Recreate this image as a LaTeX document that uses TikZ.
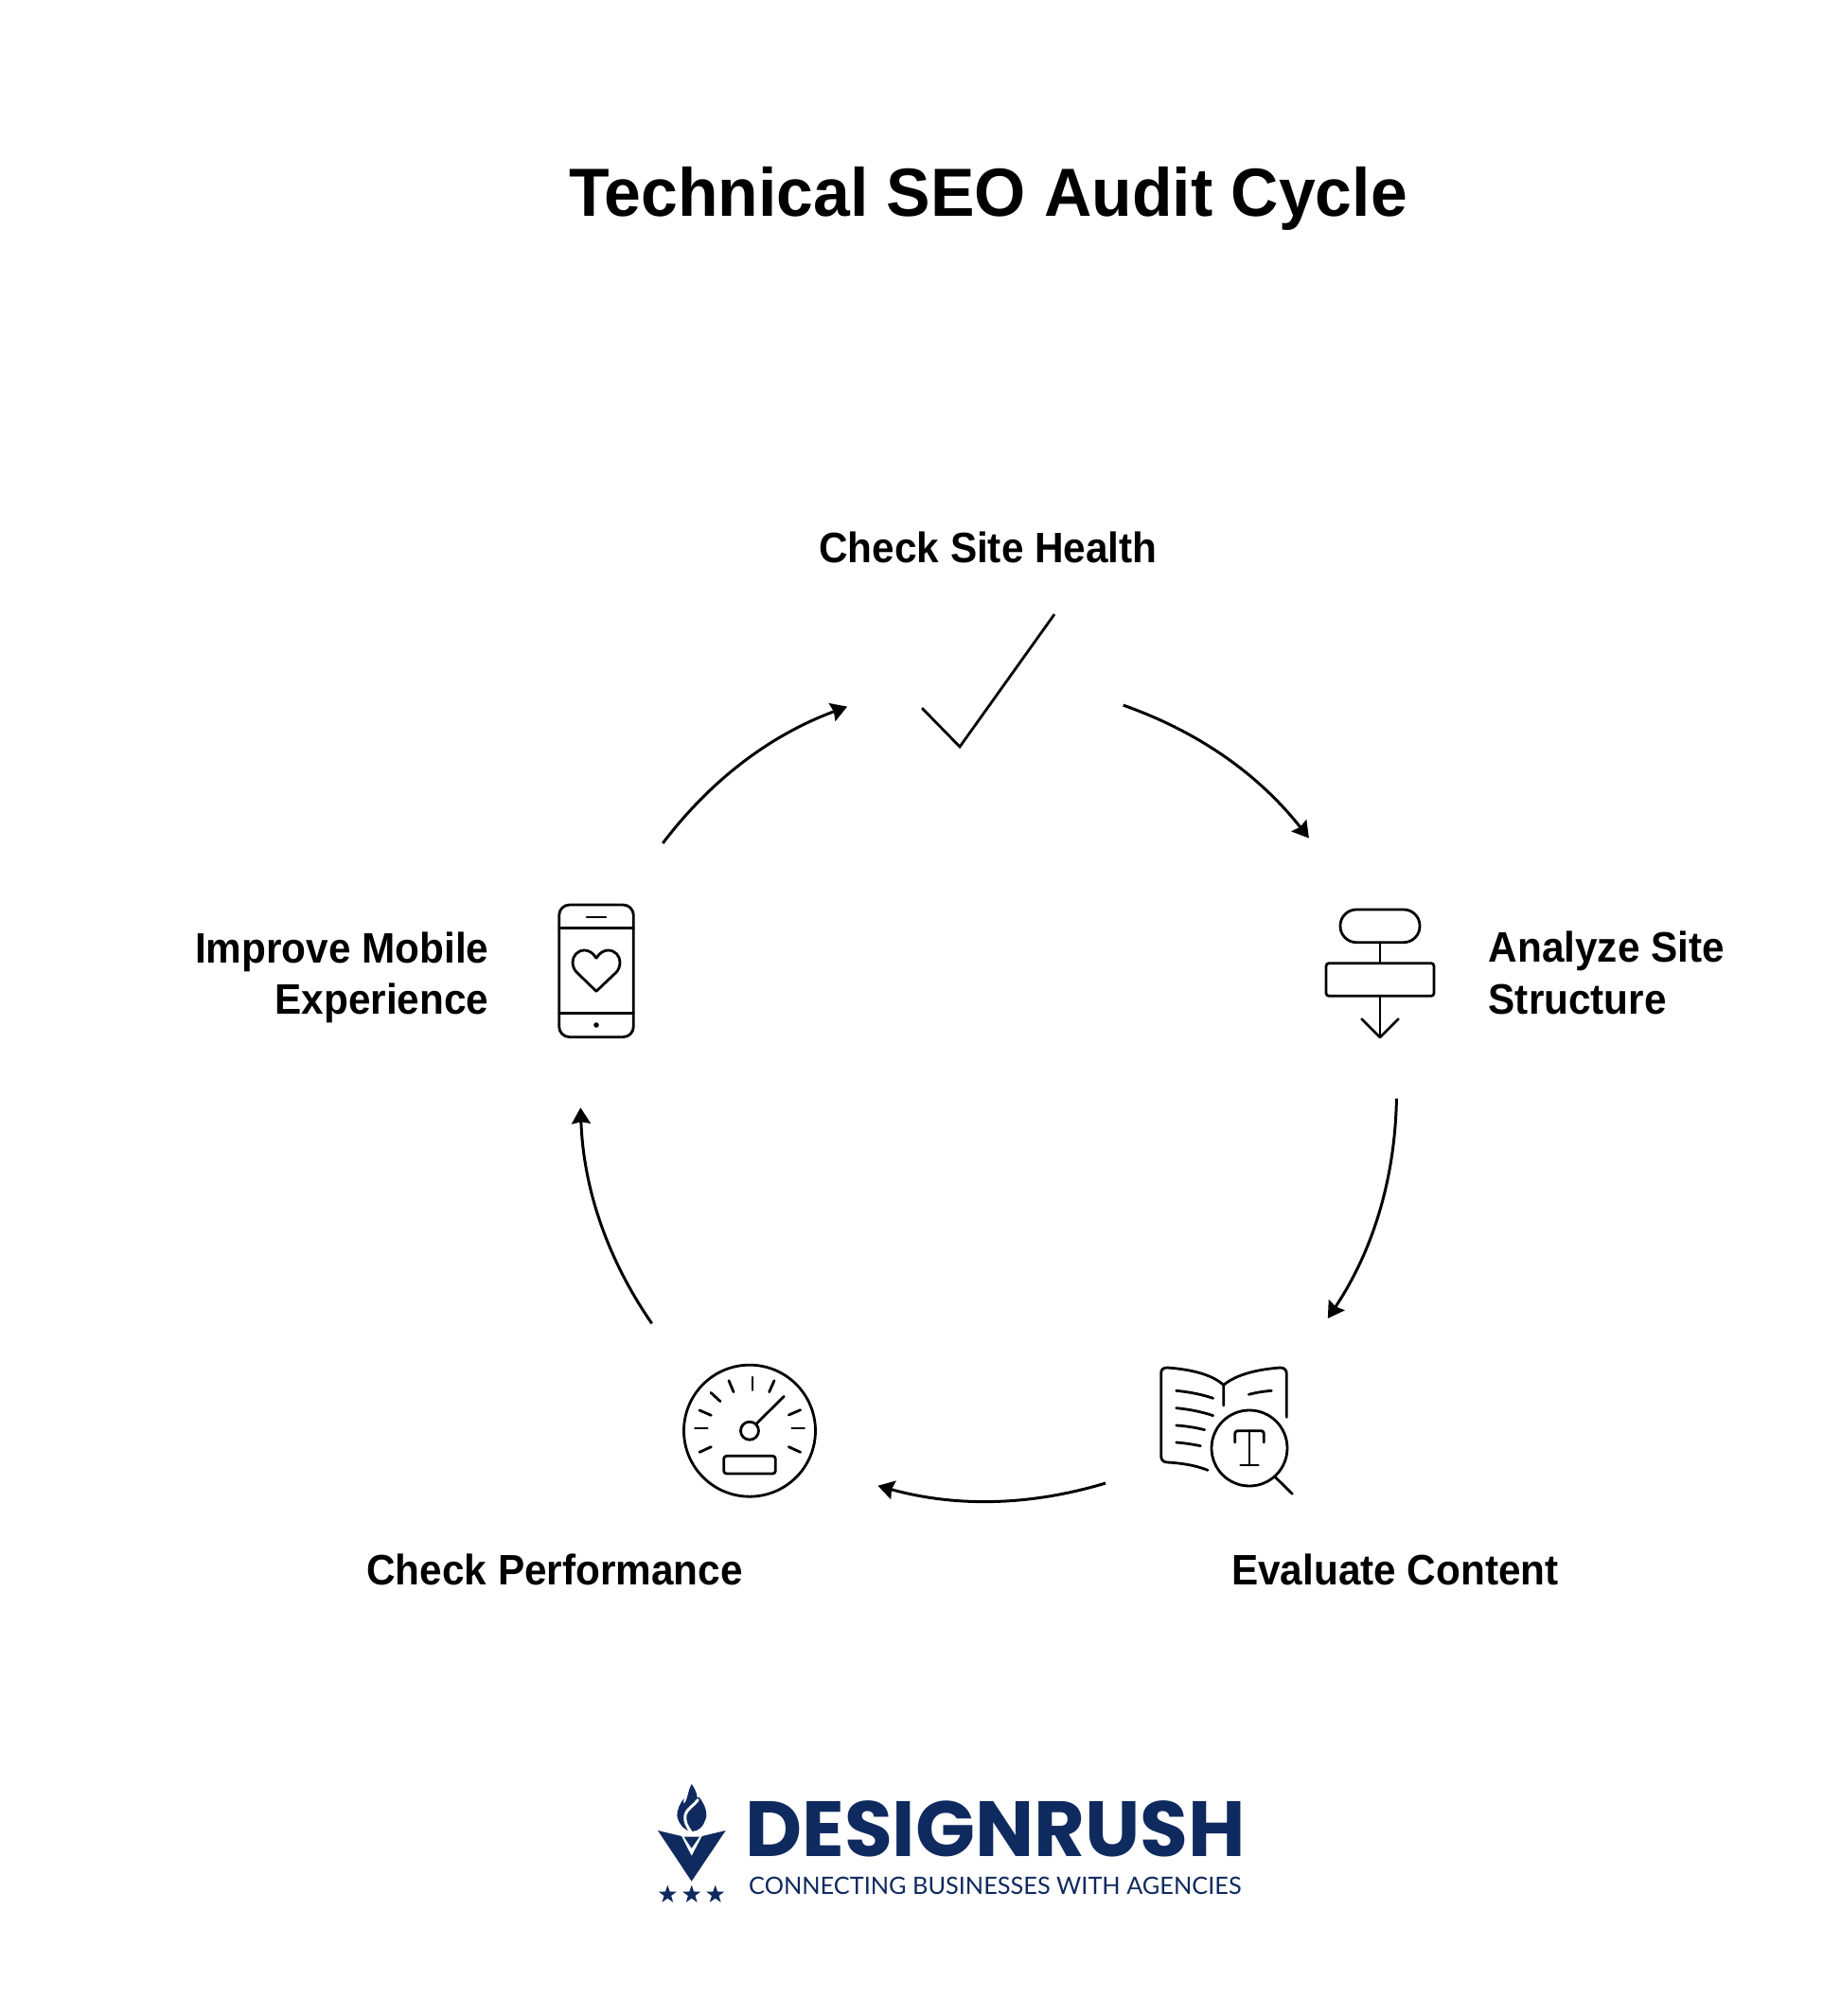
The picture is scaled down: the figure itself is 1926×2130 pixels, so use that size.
\documentclass[tikz,border=0pt]{standalone}
\usepackage{fontspec}
\usetikzlibrary{calc,arrows.meta,shapes.geometric}
\setmainfont{Liberation Sans}
\newfontfamily\labfont[FakeStretch=0.94]{Liberation Sans}
\newfontfamily\titfont[FakeStretch=0.968]{Liberation Sans}
\newfontfamily\logofont{Poppins}
\newfontfamily\tagfont{Lato}
\definecolor{logoblue}{HTML}{0F2A5F}
\tikzset{
  x=1pt,y=-1pt,
  zoomed/.style={x=0.3333pt,y=-0.3333pt},
  iconline/.style={zoomed,line width=2.8pt,line cap=round,line join=round,draw=black},
  cyclearrow/.style={line width=3pt,-{Stealth[length=17pt,width=20pt,inset=2pt]},bend left=#1,looseness=0.9},
  steplabel/.style={font=\fontsize{45}{54.6}\selectfont\labfont\bfseries,inner sep=0pt,text=black},
  logostar/.style={star,star points=5,star point ratio=2.5,fill=logoblue,inner sep=0pt,minimum size=20pt},
}
\begin{document}
\begin{tikzpicture}
\useasboundingbox (0,0) rectangle (1926,2130);
\fill[white] (0,0) rectangle (1926,2130);
\node[font=\fontsize{72}{80}\selectfont\titfont\bfseries,inner sep=0pt] (title) at (1044,209.5) {Technical SEO Audit Cycle};
\node[steplabel] (l1) at (1044,578.3) {Check Site Health};
\node[steplabel,align=left,anchor=west] (l2) at (1572.5,1028) {Analyze Site\\Structure};
\node[steplabel] (l3) at (1474,1658) {Evaluate Content};
\node[steplabel] (l4) at (586,1658) {Check Performance};
\node[steplabel,align=right,anchor=east] (l5) at (516.5,1033) {Improve Mobile\\Experience};
\coordinate (c) at (1043,1153);
\coordinate (a1s) at ($(c)+(70.6:432.5 and -432.5)$);
\coordinate (a1e) at ($(c)+(38.2:432.5 and -432.5)$);
\coordinate (a2s) at ($(c)+(-1:432.5 and -432.5)$);
\coordinate (a2e) at ($(c)+(-33.7:432.5 and -432.5)$);
\coordinate (a3s) at ($(c)+(-73.2:432.5 and -432.5)$);
\coordinate (a3e) at ($(c)+(-105.5:432.5 and -432.5)$);
\coordinate (a4s) at ($(c)+(214.7:431 and -431)$);
\coordinate (a4e) at ($(c)+(182.3:430 and -430)$);
\coordinate (a5s) at ($(c)+(142.6:431.5 and -431.5)$);
\coordinate (a5e) at ($(c)+(110:432.5 and -432.5)$);
\draw[cyclearrow=16.2] (a1s) to (a1e);
\draw[cyclearrow=16.3] (a2s) to (a2e);
\draw[cyclearrow=16.1] (a3s) to (a3e);
\draw[cyclearrow=16.3] (a4s) to (a4e);
\draw[cyclearrow=16.3] (a5s) to (a5e);
% check
\draw[line width=2.8pt,miter limit=10] (974,748) -- (1014,789) -- (1114,649);
% flow icon
\begin{scope}[shift={(1380,950)}]
\draw[iconline,rounded corners=17pt] (108,33) rectangle (360,137);
\draw[iconline] (234,137) -- (234,203);
\draw[iconline,rounded corners=3pt] (63,203) rectangle (405,307);
\draw[iconline] (234,307) -- (234,438);
\draw[iconline] (176,380) -- (234,438) -- (292,380);
\end{scope}
% book icon
\begin{scope}[shift={(1200,1420)}]
\draw[iconline] (278,195) -- (278,130) .. controls (240,95) and (170,80) .. (100,75) .. controls (88,75) and (80,80) .. (80,92) -- (80,355) .. controls (80,368) and (88,375) .. (100,375) .. controls (150,378) and (190,385) .. (228,400);
\draw[iconline] (278,130) .. controls (320,95) and (390,80) .. (458,75) .. controls (470,75) and (478,82) .. (478,95) -- (478,232);
\draw[iconline] (128,148) .. controls (170,152) and (210,160) .. (245,172);
\draw[iconline] (128,203) .. controls (170,207) and (210,215) .. (245,227);
\draw[iconline] (128,258) .. controls (160,260) and (190,265) .. (218,272);
\draw[iconline] (128,312) .. controls (155,314) and (180,318) .. (205,323);
\draw[iconline] (358,160) .. controls (380,154) and (405,150) .. (430,148);
\draw[iconline] (360,330) circle[radius=40pt];
\draw[iconline] (360,275) -- (360,384);
\draw[iconline] (332,384) -- (388,384);
\draw[iconline,rounded corners=3pt] (314,312) -- (314,275) -- (406,275) -- (406,312);
\draw[iconline] (440,420) -- (496,475);
\end{scope}
% gauge icon
\begin{scope}[shift={(700,1430)}]
\draw[iconline] (276,245) circle[radius=69.5pt];
\draw[iconline] (276,245) circle[radius=9.5pt];
\draw[iconline] (298,222) -- (385,136);
\foreach \a/\b/\c/\d in {285/75/285/116,210/86/225/122,153/124/183/152,117/180/154/196,103/237/142/237,117/313/154/296,338/122/354/86,400/195/437/179,410/237/449/237,400/296/437/313}
  \draw[iconline] (\a,\b) -- (\c,\d);
\draw[iconline,rounded corners=3pt] (194,325) rectangle (358,381);
\end{scope}
% phone icon
\begin{scope}[shift={(570,950)}]
\draw[iconline,rounded corners=11pt] (62,18) rectangle (298,437);
\draw[iconline] (62,92) -- (298,92);
\draw[iconline] (62,362) -- (298,362);
\draw[iconline] (150,57) -- (210,57);
\fill[zoomed] (180,399) circle[radius=2.8pt];
\draw[iconline] (180,187) .. controls (170,170) and (155,162) .. (143,162) .. controls (120,162) and (105,180) .. (105,200) .. controls (105,215) and (112,226) .. (118,232) -- (180,292) -- (243,232) .. controls (249,226) and (255,215) .. (255,200) .. controls (255,180) and (240,162) .. (217,162) .. controls (205,162) and (190,170) .. (180,187);
\end{scope}
% logo mark
\begin{scope}[shift={(690,1885)}]
\fill[logoblue,zoomed] (15,147) -- (90,165) -- (122,228) -- (155,165) -- (230,147) -- (122,308) -- cycle;
\fill[logoblue,zoomed] (98,167) -- (147,167) -- (122,203) -- cycle;
\end{scope}
\begin{scope}[shift={(700,1885)}]
\fill[logoblue,zoomed] (92,0) .. controls (100,10) and (108,25) .. (110,42) .. controls (111,48) and (112,45) .. (115,40) .. controls (135,65) and (145,95) .. (135,115) .. controls (128,135) and (115,148) .. (95,150) .. controls (70,150) and (50,125) .. (46,100) .. controls (45,85) and (55,60) .. (68,45) .. controls (66,55) and (66,62) .. (68,62) .. controls (80,50) and (80,20) .. (92,0) -- cycle;
\draw[white,zoomed,line width=3pt,line cap=round] (112,50) .. controls (100,68) and (78,76) .. (72,98) .. controls (68,118) and (78,135) .. (90,152);
\end{scope}
\node[logostar] (s1) at (705.3,2001.7) {};
\node[logostar] (s2) at (730.7,2001.7) {};
\node[logostar] (s3) at (755.7,2001.7) {};
% logo text
\node[font=\fontsize{82.7}{90}\logofont\bfseries,text=logoblue,inner sep=0pt,anchor=west] (logo) at (787,1932) {DESIGNRUSH};
\node[font=\fontsize{25.3}{30}\tagfont,text=logoblue,inner sep=0pt,anchor=west] (tag) at (791,1992) {CONNECTING BUSINESSES WITH AGENCIES};
\end{tikzpicture}
\end{document}
